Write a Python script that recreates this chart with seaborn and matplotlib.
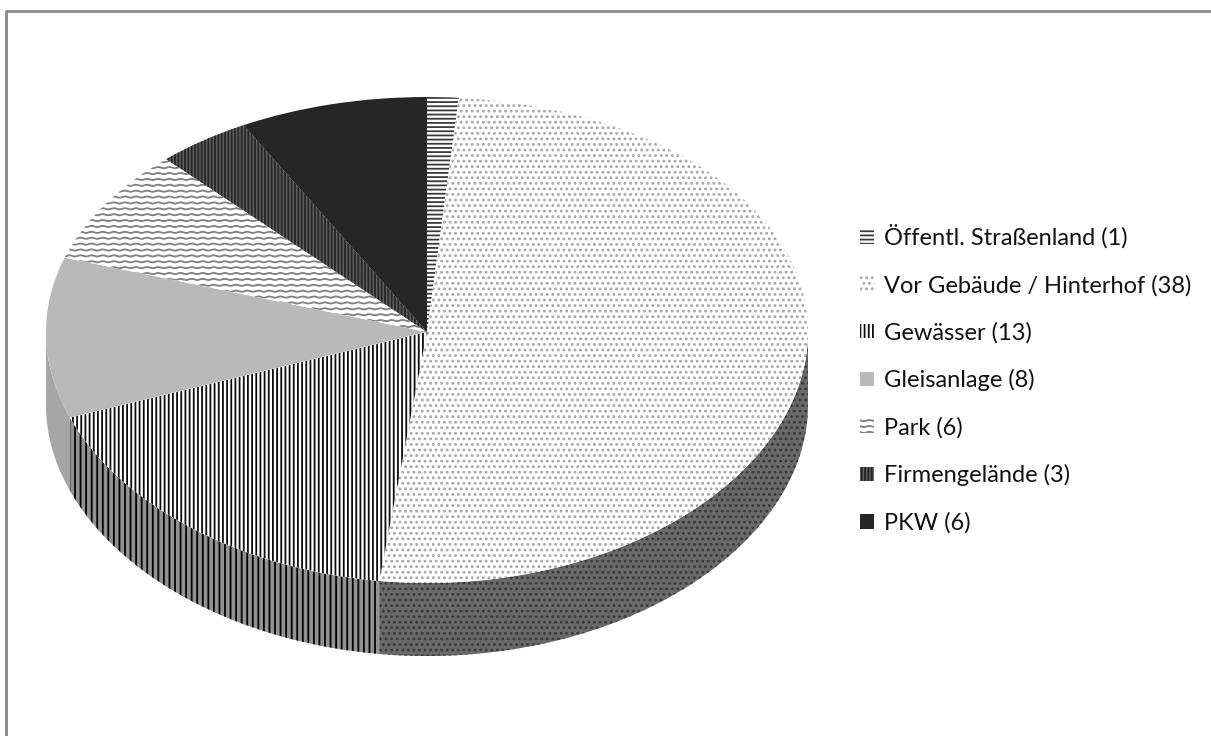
import numpy as np
import seaborn as sns
import matplotlib
matplotlib.use('Agg')
import matplotlib.pyplot as plt
from matplotlib import hatch as mhatch
from matplotlib.lines import Line2D
from matplotlib.path import Path
from matplotlib.transforms import Transform

labels = ['Öffentl. Straßenland (1)', 'Vor Gebäude / Hinterhof (38)', 'Gewässer (13)',
          'Gleisanlage (8)', 'Park (6)', 'Firmengelände (3)', 'PKW (6)']
values = [1, 38, 13, 8, 6, 3, 6]
face_colors = ['#ffffff', '#ffffff', '#ffffff', '#b9b9b9', '#ffffff', '#606060', '#262626']
hatch_colors = ['#3a3a3a', '#a8a8a8', '#0c0c0c', '#b9b9b9', '#808080', '#262626', '#262626']
hatches = ['----', '...', '||||', None, 'O', '|||||', None]
wall_faces = ['#555555', '#6a6a6a', '#929292', '#a6a6a6', '#777777', '#333333', '#1c1c1c']
wall_hatch_colors = ['#333333', '#3a3a3a', '#000000', '#a6a6a6', '#444444', '#111111', '#1c1c1c']
wall_hatches = [None, '...', '|||', None, None, None, None]

# pie geometry in pixels, y going up
cx, cy = 427, 736 - 332
radius = 381
mid_ry, skew = 243, 8
depth = 73


class WaveHatch(mhatch.HatchPatternBase):
    # office style wavy pattern, takes the place of the 'O' hatch
    def __init__(self, hatch, density):
        self.rows = hatch.count('O') * 17
        self.num_vertices = self.rows * 73

    def set_vertices_and_codes(self, vertices, codes):
        xs = np.linspace(0, 1, 73)
        for i in range(self.rows):
            k = i * 73
            vertices[k:k + 73, 0] = xs
            vertices[k:k + 73, 1] = (i + 0.5) / self.rows + 0.006 * np.sin(xs * 2 * np.pi * 9)
            codes[k] = Path.MOVETO
            codes[k + 1:k + 73] = Path.LINETO


mhatch._hatch_types = [WaveHatch if t is mhatch.LargeCircles else t for t in mhatch._hatch_types]


def warp_y(y):
    u = (np.asarray(y) - cy) / radius
    return cy + mid_ry * u - skew * u ** 2


class TiltTransform(Transform):
    input_dims = 2
    output_dims = 2
    is_separable = False

    def transform_non_affine(self, values):
        out = np.array(values, dtype=float)
        out[:, 1] = warp_y(out[:, 1])
        return out


sns.set_theme(style='white')
plt.rcParams['font.family'] = ['Lato', 'DejaVu Sans']
plt.rcParams['hatch.linewidth'] = 1.3

fig = plt.figure(figsize=(12.11, 7.36), dpi=100)
ax = fig.add_axes([0, 0, 1, 1])

wedges, _ = ax.pie(values, startangle=90, counterclock=False, radius=radius, center=(cx, cy),
                   colors=face_colors, hatch=hatches, wedgeprops={'linewidth': 0})
ax.set_aspect('auto')
ax.set_xlim(0, 1211)
ax.set_ylim(0, 736)
ax.axis('off')

tilt = TiltTransform() + ax.transData
for w, c in zip(wedges, hatch_colors):
    w.set_edgecolor(c)
    w.set_transform(tilt)
    w.set_zorder(3)

# side wall, only where a slice faces the viewer
for w, fc, hc, h in zip(wedges, wall_faces, wall_hatch_colors, wall_hatches):
    t = np.radians(np.linspace(w.theta1, w.theta2, 300))
    t = t[np.sin(t) < 0]
    if len(t) == 0:
        continue
    x = cx + radius * np.cos(t)
    top = warp_y(cy + radius * np.sin(t))
    xs = np.concatenate([x, x[::-1]])
    ys = np.concatenate([top, top[::-1] - depth])
    ax.fill(xs, ys, facecolor=fc, edgecolor=hc, hatch=h, linewidth=0, zorder=2)

leg = ax.legend(wedges, labels, loc='center left', bbox_to_anchor=(839, 736 - 379),
                bbox_transform=ax.transData, frameon=False, fontsize=17,
                labelspacing=1.09, handlelength=0.58, handleheight=0.58, handletextpad=0.42,
                labelcolor='#111111')

# chart border: only top and left show in the crop
fig.add_artist(Line2D([6 / 1211, 6 / 1211, 1], [0, 725 / 736, 725 / 736], transform=fig.transFigure,
                      color='#868686', linewidth=2))

fig.savefig('out.png', dpi=100, facecolor='white')
